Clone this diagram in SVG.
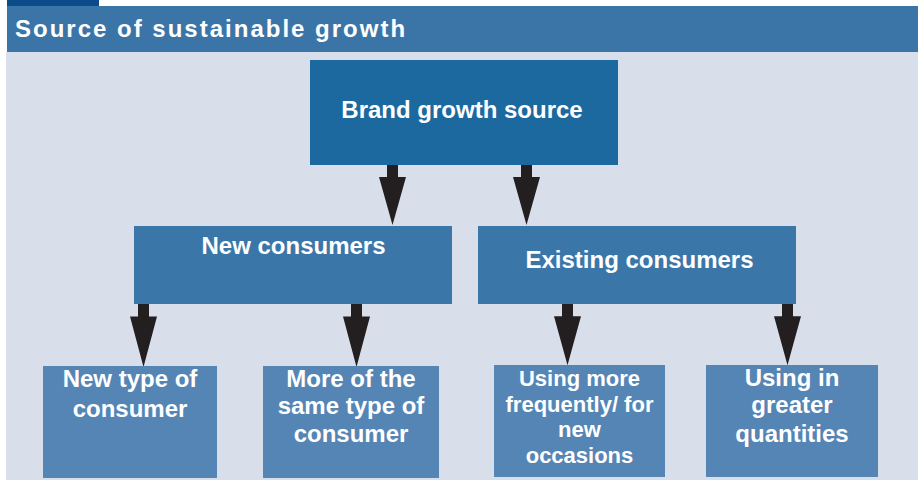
<svg xmlns="http://www.w3.org/2000/svg" width="918" height="480" viewBox="0 0 918 480">
  <style>
    .lbl { font-family: "Liberation Sans", Arial, sans-serif; font-weight: bold; font-size: 24px; fill: #ffffff; text-anchor: middle; }
    .tight { font-size: 22px; }
    .title { font-family: "Liberation Sans", Arial, sans-serif; font-weight: bold; font-size: 24px; fill: #ffffff; letter-spacing: 2px; }
    .top { fill: #1c699f; }
    .mid { fill: #3b76a8; }
    .leaf { fill: #5585b5; }
    .arrow { fill: #231f20; }
  </style>
  <defs>
    <!-- down arrow: shaft 11 wide, head 27 wide; origin at top centre of shaft -->
    <path id="dn" d="M-5.5 0 H5.5 V12 H13.5 L0 60 L-13.5 12 H-5.5 Z"/>
  </defs>

  <rect x="0" y="0" width="918" height="480" fill="#ffffff"/>
  <!-- panel and header -->
  <rect x="6" y="52" width="912" height="428" fill="#d8dfeb"/>
  <rect x="7" y="0" width="92" height="6" fill="#0b4c88"/>
  <rect x="7" y="6" width="911" height="46" fill="#3b75a7"/>
  <text class="title" x="15" y="37">Source of sustainable growth</text>

  <g id="connectors">
    <use href="#dn" class="arrow" transform="translate(392.5,165)"/>
    <use href="#dn" class="arrow" transform="translate(526.5,165)"/>
    <use href="#dn" class="arrow" transform="translate(143.5,304) scale(1,1.05)"/>
    <use href="#dn" class="arrow" transform="translate(356.5,304) scale(1,1.05)"/>
    <use href="#dn" class="arrow" transform="translate(567.5,304) scale(1,1.02)"/>
    <use href="#dn" class="arrow" transform="translate(787.5,304) scale(1,1.02)"/>
  </g>

  <g id="brand-growth-source">
    <rect class="top" x="310" y="60" width="308" height="105"/>
    <text class="lbl" x="462" y="118">Brand growth source</text>
  </g>

  <g id="new-consumers">
    <rect class="mid" x="134" y="226" width="318" height="78"/>
    <text class="lbl" x="293.5" y="254">New consumers</text>
  </g>

  <g id="existing-consumers">
    <rect class="mid" x="478" y="226" width="318" height="78"/>
    <text class="lbl" x="639.5" y="268">Existing consumers</text>
  </g>

  <g id="new-type-of-consumer">
    <rect class="leaf" x="43" y="366" width="174" height="112"/>
    <text class="lbl" x="130" y="387">New type of</text>
    <text class="lbl" x="130" y="417">consumer</text>
  </g>

  <g id="more-of-same-type">
    <rect class="leaf" x="263" y="366" width="176" height="112"/>
    <text class="lbl" x="351" y="387">More of the</text>
    <text class="lbl" x="351" y="414">same type of</text>
    <text class="lbl" x="351" y="442">consumer</text>
  </g>

  <g id="using-more-frequently">
    <rect class="leaf" x="494" y="365" width="171" height="112"/>
    <text class="lbl tight" x="579.5" y="386">Using more</text>
    <text class="lbl tight" x="579.5" y="411.5">frequently/ for</text>
    <text class="lbl tight" x="579.5" y="437">new</text>
    <text class="lbl tight" x="579.5" y="462.5">occasions</text>
  </g>

  <g id="using-greater-quantities">
    <rect class="leaf" x="706" y="365" width="172" height="112"/>
    <text class="lbl" x="792" y="386">Using in</text>
    <text class="lbl" x="792" y="413">greater</text>
    <text class="lbl" x="792" y="442">quantities</text>
  </g>
</svg>
